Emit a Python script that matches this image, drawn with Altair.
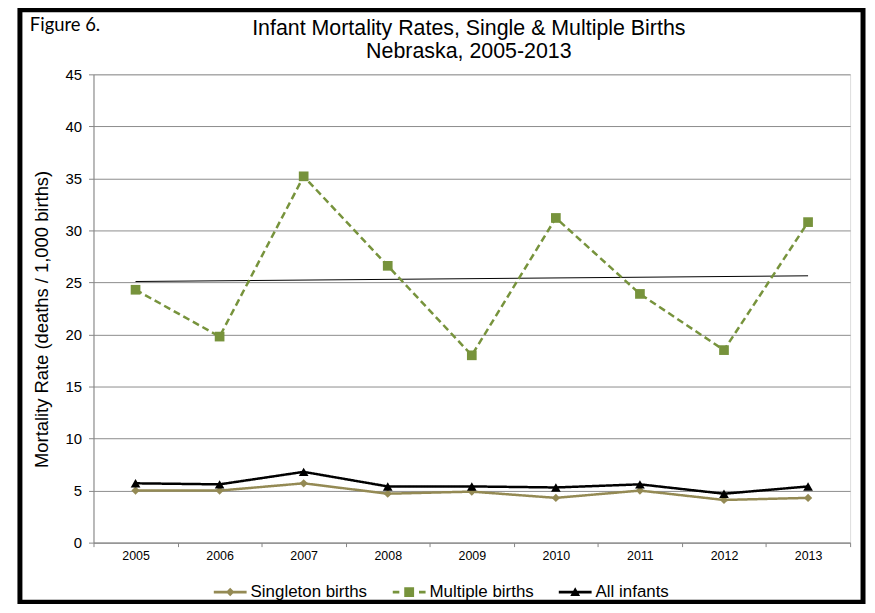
import altair as alt
import pandas as pd

years = ["2005", "2006", "2007", "2008", "2009", "2010", "2011", "2012", "2013"]
singleton = [5.0, 5.0, 5.7, 4.7, 4.9, 4.3, 5.0, 4.1, 4.3]
multiple = [24.3, 19.8, 35.2, 26.6, 18.0, 31.2, 23.9, 18.5, 30.8]
all_infants = [5.7, 5.6, 6.8, 5.4, 5.4, 5.3, 5.6, 4.7, 5.4]

series_names = ["Singleton births", "Multiple births", "All infants"]
series_colors = ["#948A54", "#77933C", "#000000"]
y_ticks = [0, 5, 10, 15, 20, 25, 30, 35, 40, 45]
title_lines = ["Infant Mortality Rates, Single & Multiple Births", "Nebraska, 2005-2013"]

rows = []
for name, vals in zip(series_names, [singleton, multiple, all_infants]):
    for yr, v in zip(years, vals):
        rows.append({"year": yr, "yearnum": int(yr), "series": name, "value": v})
df = pd.DataFrame(rows)

FONT = "Liberation Sans"
W, H = 761, 471

x_enc = alt.X(
    "year:O",
    scale=alt.Scale(type="band", paddingInner=0, paddingOuter=0, domain=years),
    axis=alt.Axis(
        title=None, labelAngle=0, labelFontSize=12.5, labelFont=FONT, labelColor="#000000",
        tickBand="extent", tickSize=4, tickColor="#868686", domainColor="#868686",
        labelPadding=3, grid=False,
    ),
)
y_enc = alt.Y(
    "value:Q",
    scale=alt.Scale(domain=[0, 45], nice=False),
    axis=alt.Axis(
        title="Mortality Rate (deaths / 1,000 births)", titleFontSize=18.5, titleFont=FONT,
        titleFontWeight="normal", titleColor="#000000", titlePadding=14, titleY=246,
        values=y_ticks, labelFontSize=15, labelFont=FONT, labelColor="#000000",
        tickSize=5, tickColor="#868686", domainColor="#868686", labelPadding=7,
        grid=True, gridColor="#8c8c8c", gridWidth=1,
    ),
)

base = alt.Chart(df)
dashes = {"Singleton births": [1, 0], "Multiple births": [7, 4], "All infants": [1, 0]}
shapes = {"Singleton births": ("diamond", 70), "Multiple births": ("square", 95), "All infants": ("triangle-up", 95)}

layers = []
# trend line for multiple births
trend = (
    base.transform_filter(alt.datum.series == "Multiple births")
    .transform_regression("yearnum", "value")
    .transform_calculate(year="toString(datum.yearnum)")
    .mark_line(color="#000000", strokeWidth=1)
    .encode(x=x_enc, y=y_enc)
)
layers.append(trend)

for name, color in zip(series_names, series_colors):
    sub = base.transform_filter(alt.datum.series == name)
    line = sub.mark_line(color=color, strokeWidth=2.5, strokeDash=dashes[name]).encode(x=x_enc, y=y_enc)
    shp, sz = shapes[name]
    pts = sub.mark_point(filled=True, shape=shp, size=sz, color=color, opacity=1).encode(x=x_enc, y=y_enc)
    layers += [line, pts]

# legend symbols (line + marker)
legend_paths = [
    "M-1,-0.08 H1 V0.08 H-1 Z M0,-0.26 L0.26,0 L0,0.26 L-0.26,0 Z",
    "M-1,-0.08 H-0.6 V0.08 H-1 Z M-0.3,-0.3 H0.3 V0.3 H-0.3 Z M0.6,-0.08 H1 V0.08 H0.6 Z",
    "M-1,-0.08 H1 V0.08 H-1 Z M0,-0.3 L0.3,0.24 L-0.3,0.24 Z",
]
leg = dict(title=None, orient="none", legendX=121, legendY=504, direction="horizontal",
           labelFont=FONT, labelFontSize=17, labelColor="#000000", labelOffset=4,
           columnPadding=25, padding=0, symbolStrokeWidth=0, symbolSize=1089)
legend_layer = (
    base.transform_filter("false")
    .mark_point(filled=True, opacity=1, size=1089)
    .encode(
        color=alt.Color("series:N", scale=alt.Scale(domain=series_names, range=series_colors),
                        legend=alt.Legend(**leg)),
        shape=alt.Shape("series:N", scale=alt.Scale(domain=series_names, range=legend_paths),
                        legend=alt.Legend(**leg)),
    )
)
layers.append(legend_layer)

one = alt.Data(values=[{}])
# outer frame
frame = alt.Chart(one).mark_rect(
    filled=False, stroke="#000000", strokeWidth=5
).encode(x=alt.value(-74), x2=alt.value(774), y=alt.value(-65), y2=alt.value(531))
layers.append(frame)

fig_label = alt.Chart(one).mark_text(
    text="Figure 6.", font="Lato", fontSize=18.5, align="left", baseline="alphabetic", color="#000000"
).encode(x=alt.value(-64), y=alt.value(-44))
layers.append(fig_label)

for i, t in enumerate(title_lines):
    layers.append(
        alt.Chart(one).mark_text(
            text=t, font=FONT, fontSize=21.5, align="center", baseline="alphabetic", color="#000000"
        ).encode(x=alt.value(377.5), y=alt.value(-40 + 24 * i))
    )

chart = (
    alt.layer(*layers)
    .properties(
        width=W, height=H,
        autosize=alt.AutoSizeParams(type="none"),
        padding={"left": 86, "top": 65, "right": 17, "bottom": 60},
    )
    .configure_view(stroke="#868686", strokeWidth=1)
    .configure(background="#ffffff")
)

chart.save("out.html", embed_options={"renderer": "svg", "actions": False})
